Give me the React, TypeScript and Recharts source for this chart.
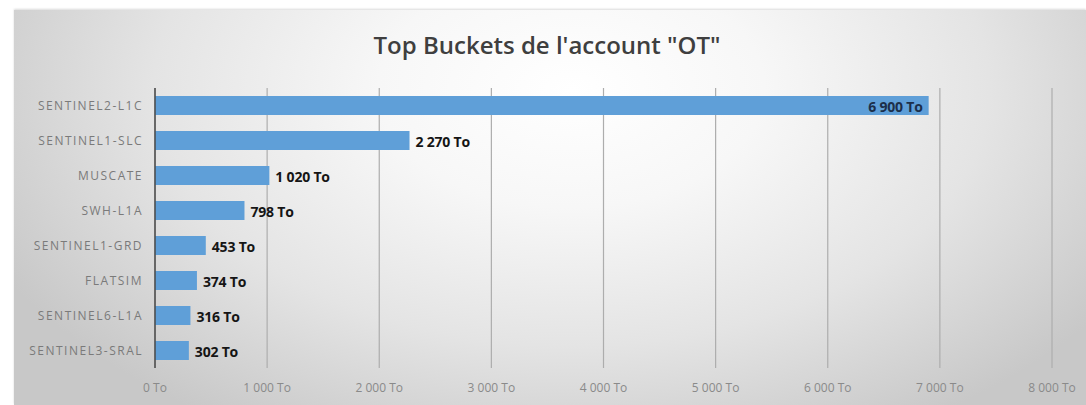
import React from "react";
import { BarChart, Bar, XAxis, YAxis, CartesianGrid, LabelList } from "recharts";

const categories = [
  "SENTINEL2-L1C",
  "SENTINEL1-SLC",
  "MUSCATE",
  "SWH-L1A",
  "SENTINEL1-GRD",
  "FLATSIM",
  "SENTINEL6-L1A",
  "SENTINEL3-SRAL",
];
const values = [6900, 2270, 1020, 798, 453, 374, 316, 302];
const xTicks = [0, 1000, 2000, 3000, 4000, 5000, 6000, 7000, 8000];
const title = 'Top Buckets de l\'account "OT"';

const data = categories.map((name, i) => ({ name, value: values[i] }));

const fmt = (v: number) => {
  const s = Math.round(v).toString().replace(/\B(?=(\d{3})+(?!\d))/g, " ");
  return s + " To";
};

const FONT = "Open Sans, DejaVu Sans, sans-serif";

const renderLabel = (props: any) => {
  const { x, y, width, height, value } = props;
  const inside = value > 5000;
  const tx = inside ? x + width - 6 : x + width + 6;
  return (
    <text
      x={tx}
      y={y + height / 2 + 1}
      textAnchor={inside ? "end" : "start"}
      dominantBaseline="central"
      fontFamily={FONT}
      fontSize={14}
      fontWeight={700}
      fill={inside ? "#1c2f4a" : "#151515"}
      letterSpacing={-0.2}
    >
      {fmt(value)}
    </text>
  );
};

export default function App() {
  return (
    <div style={{ position: "absolute", left: 0, top: 0, width: 1086, height: 405, background: "#ffffff" }}>
      <div
        style={{
          position: "absolute",
          left: 14,
          top: 10,
          width: 1072,
          height: 395,
          background:
            "radial-gradient(ellipse 60% 100% at 52% 20%, #ffffff 0%, #f7f7f7 30%, #e4e4e4 65%, #c8c8c8 100%)",
          boxShadow: "0 -1px 2px rgba(0,0,0,0.15)",
        }}
      />
      <div
        style={{
          position: "absolute",
          left: 0,
          top: 28,
          width: 1086,
          textAlign: "center",
          fontFamily: FONT,
          fontWeight: 600,
          fontSize: 24,
          color: "#3f3f3f",
          paddingLeft: 4,
        }}
      >
        {title}
      </div>
      <div style={{ position: "absolute", left: 0, top: 0 }}>
        <BarChart
          width={1086}
          height={405}
          data={data}
          layout="vertical"
          margin={{ top: 88, right: 34, bottom: 7, left: 0 }}
        >
          <CartesianGrid horizontal={false} vertical={true} stroke="#adadad" strokeWidth={1.2} />
          <XAxis
            type="number"
            domain={[0, 8000]}
            ticks={xTicks}
            tickFormatter={fmt}
            axisLine={false}
            tickLine={false}
            tickMargin={9}
            tick={{ fill: "#8a8a8a", fontSize: 12, fontFamily: FONT }}
            interval={0}
          />
          <YAxis
            type="category"
            dataKey="name"
            width={155}
            axisLine={{ stroke: "#4a4a4a", strokeWidth: 1.5 }}
            tickLine={false}
            tickMargin={6}
            tick={{ fill: "#7a7a7a", fontSize: 12, fontFamily: FONT, letterSpacing: 1.5 }}
            interval={0}
          />
          <Bar dataKey="value" fill="#5f9fd8" barSize={19} isAnimationActive={false}>
            <LabelList dataKey="value" content={renderLabel} />
          </Bar>
        </BarChart>
      </div>
    </div>
  );
}
